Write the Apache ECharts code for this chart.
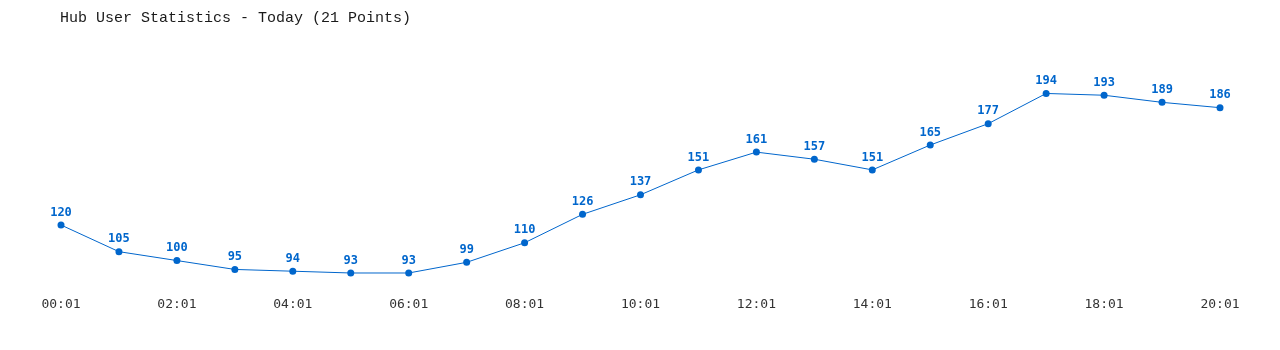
<!DOCTYPE html>
<html><head><meta charset="utf-8">
<script src="https://cdn.jsdelivr.net/npm/echarts@6/dist/echarts.min.js"></script>
<style>html,body{margin:0;padding:0;background:#fff}#c{width:1280px;height:350px}</style>
</head><body><div id="c"></div>
<script>
const categories = ["00:01","01:01","02:01","03:01","04:01","05:01","06:01","07:01","08:01","09:01","10:01","11:01","12:01","13:01","14:01","15:01","16:01","17:01","18:01","19:01","20:01"];
const users = [120,105,100,95,94,93,93,99,110,126,137,151,161,157,151,165,177,194,193,189,186];
const titleText = "Hub User Statistics - Today (21 Points)";
const font = "'DejaVu Sans Mono', 'Liberation Mono', monospace";
const chart = echarts.init(document.getElementById('c'));
chart.setOption({
  animation:false,
  title:{text:titleText,left:55,top:6,textStyle:{fontFamily:"'Liberation Mono', monospace",fontSize:15,fontWeight:'normal',color:'#1a1a1a'}},
  grid:{left:61,right:60,top:82.8,bottom:53.9,containLabel:false},
  xAxis:{type:'category',data:categories,boundaryGap:false,
    axisLine:{show:false},axisTick:{show:false},splitLine:{show:false},
    axisLabel:{interval:1,margin:2,fontFamily:font,fontSize:13,color:'#333',verticalAlign:'top'}},
  yAxis:{type:'value',min:80,max:200,show:false,splitLine:{show:false}},
  series:[{type:'line',data:users,symbol:'circle',symbolSize:7,
    lineStyle:{color:'#0066cc',width:1},itemStyle:{color:'#0066cc'},
    label:{show:true,position:'top',distance:3,fontFamily:font,fontSize:12,fontWeight:'bold',color:'#0066cc'}}]
});
</script></body></html>
